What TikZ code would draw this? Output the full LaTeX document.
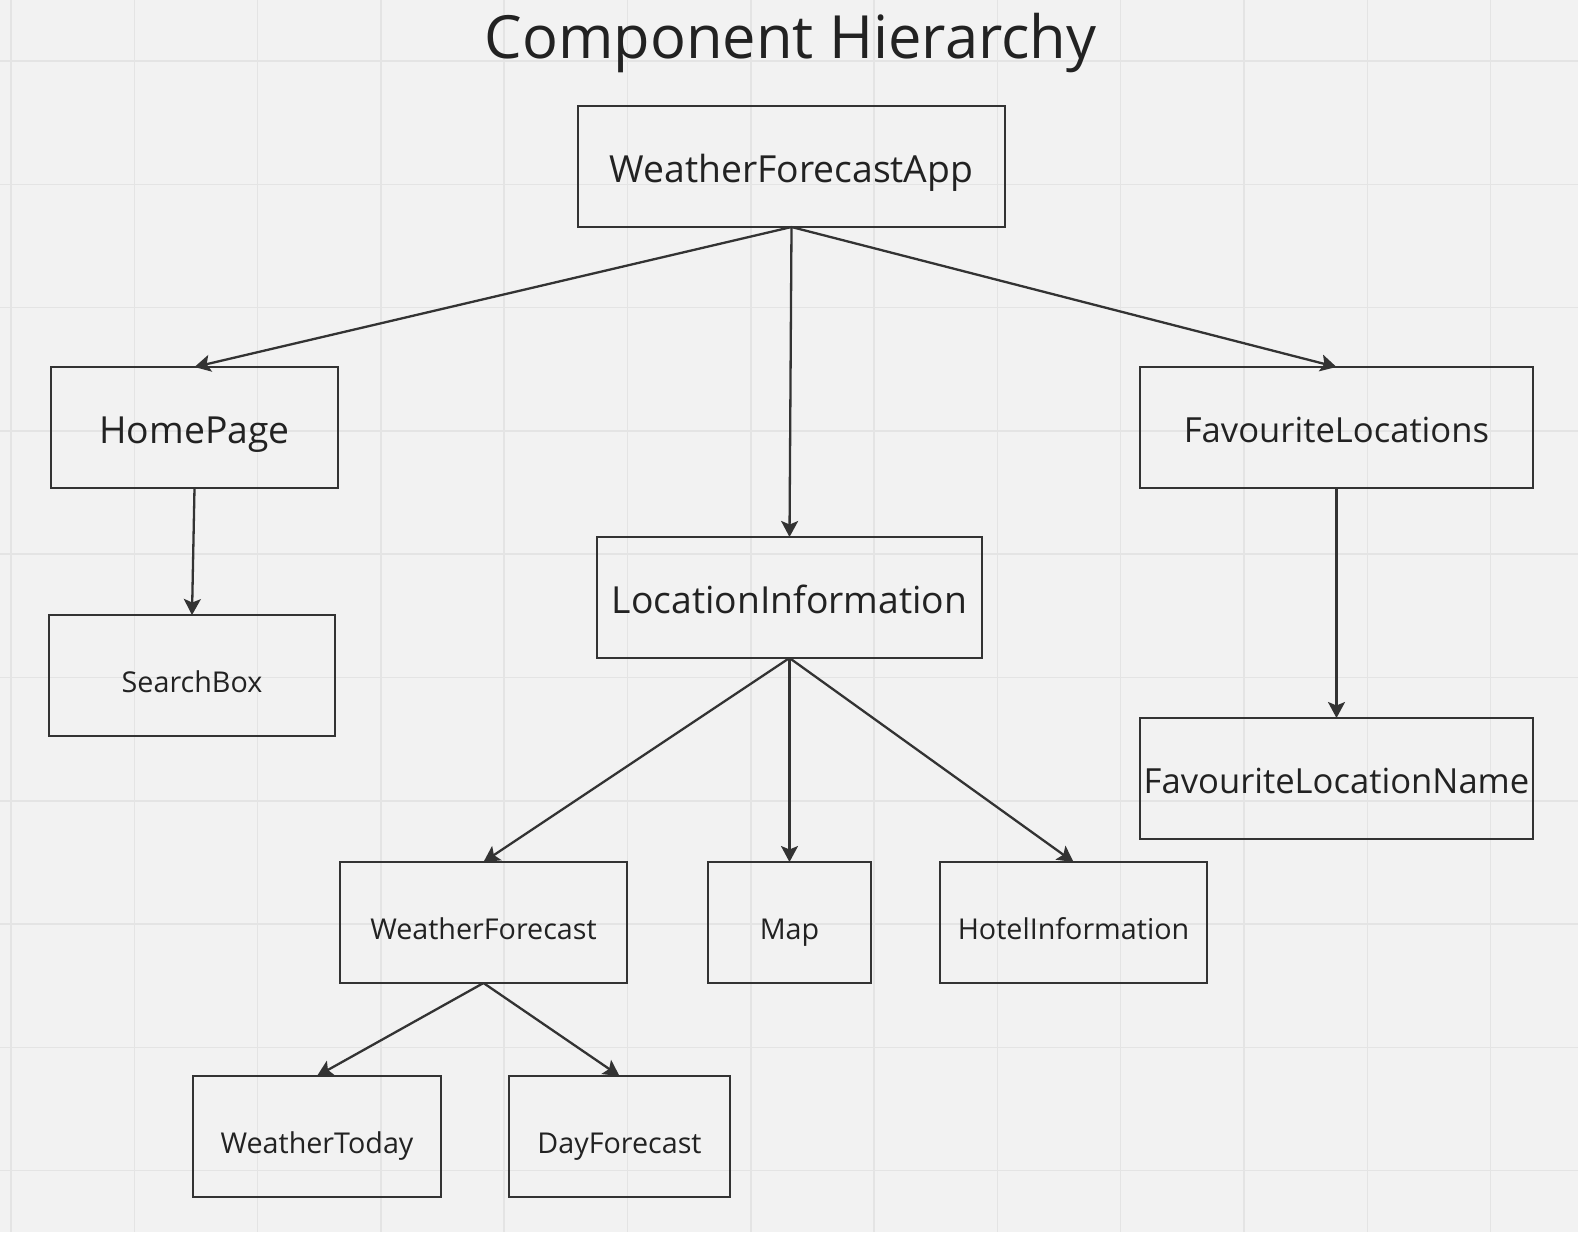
\documentclass[tikz,border=0pt]{standalone}
\usepackage{fontspec}
\setmainfont{Open Sans}
\usetikzlibrary{arrows.meta}
\definecolor{bg}{HTML}{F2F2F2}
\definecolor{gridc}{HTML}{E4E4E4}
\definecolor{ink}{HTML}{333333}
\definecolor{txt}{HTML}{222222}
\tikzset{
  box/.style={draw=ink, line width=2.8pt, rectangle, inner sep=0pt, outer sep=0pt, minimum height=121pt, text=txt},
  bigtxt/.style={font=\fontsize{37.3}{44}\selectfont, text height=31pt, text depth=0pt},
  midtxt/.style={font=\fontsize{34.6}{41}\selectfont, text height=29pt, text depth=0pt},
  smalltxt/.style={font=\fontsize{28.7}{34}\selectfont, text height=34pt, text depth=0pt},
  conn/.style={draw=ink, line width=2.3pt, -{Stealth[length=16pt, width=17pt, inset=3.5pt]}}
}
\begin{document}
\begin{tikzpicture}[x=1pt, y=-1pt]
\useasboundingbox (0,0) rectangle (1578,1232);
\fill[bg] (0,0) rectangle (1578,1232);
\foreach \i in {0,...,12} {
  \draw[gridc, line width=1.5pt] ({11+123.3*\i},0) -- ({11+123.3*\i},1232);
}
\foreach \j in {0,...,9} {
  \draw[gridc, line width=1.5pt] (0,{61+123.3*\j}) -- (1578,{61+123.3*\j});
}
\node[text=txt, font=\fontsize{59.6}{70}\selectfont, inner sep=0pt, anchor=base] (title) at (790.5,58.3) {Component Hierarchy};

\node[box, bigtxt, minimum width=427pt] (app) at (791.5,166.5) {WeatherForecastApp};
\node[box, bigtxt, minimum width=287pt] (home) at (194.5,427.5) {HomePage};
\node[box, midtxt, minimum width=393pt] (fav) at (1336.5,427.5) {FavouriteLocations};
\node[box, bigtxt, minimum width=385pt] (loc) at (789.5,597.5) {LocationInformation};
\node[box, smalltxt, minimum width=286pt] (search) at (192,675.5) {SearchBox};
\node[box, midtxt, minimum width=393pt] (favname) at (1336.5,778.5) {FavouriteLocationName};
\node[box, smalltxt, minimum width=287pt] (wf) at (483.5,922.5) {WeatherForecast};
\node[box, smalltxt, minimum width=163pt] (map) at (789.5,922.5) {Map};
\node[box, smalltxt, minimum width=267pt] (hotel) at (1073.5,922.5) {HotelInformation};
\node[box, smalltxt, minimum width=248pt] (today) at (317,1136.5) {WeatherToday};
\node[box, smalltxt, minimum width=221pt] (day) at (619.5,1136.5) {DayForecast};

\draw[conn] (app.south) -- (home.north);
\draw[conn] (app.south) -- (loc.north);
\draw[conn] (app.south) -- (fav.north);
\draw[conn] (home.south) -- (search.north);
\draw[conn] (fav.south) -- (favname.north);
\draw[conn] (loc.south) -- (wf.north);
\draw[conn] (loc.south) -- (map.north);
\draw[conn] (loc.south) -- (hotel.north);
\draw[conn] (wf.south) -- (today.north);
\draw[conn] (wf.south) -- (day.north);
\end{tikzpicture}
\end{document}
